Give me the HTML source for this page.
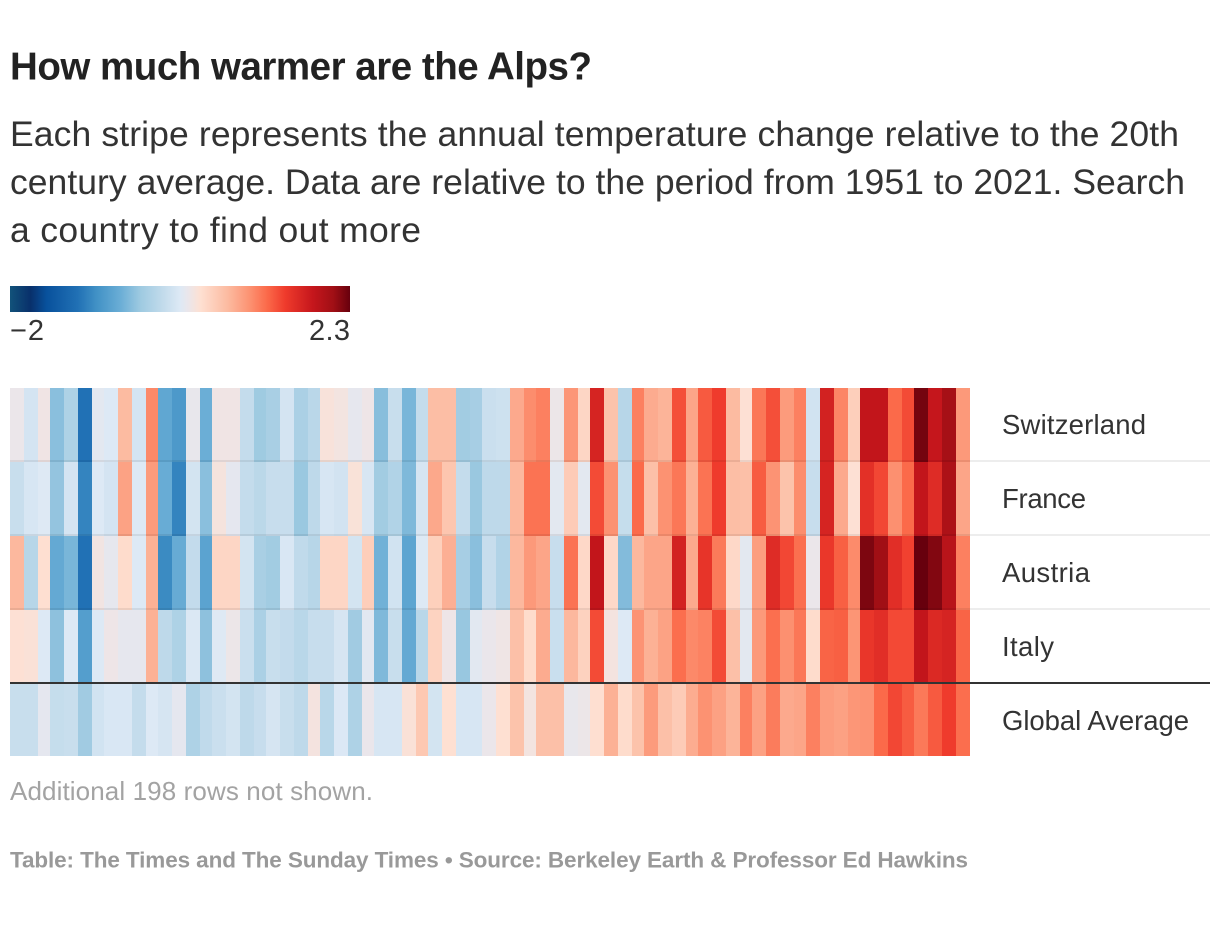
<!DOCTYPE html>
<html lang="en">
<head>
<meta charset="utf-8">
<title>How much warmer are the Alps?</title>
<style>
html,body{margin:0;padding:0;background:#fff;width:1220px;height:938px;overflow:hidden}
svg{display:block}
text{font-family:"Liberation Sans",Arial,sans-serif}
</style>
</head>
<body>
<svg id="chart" xmlns="http://www.w3.org/2000/svg" width="1220" height="938" viewBox="0 0 1220 938">
  <defs>
    <linearGradient id="legend-gradient" x1="0" x2="1" y1="0" y2="0"></linearGradient>
  </defs>
  <rect x="0" y="0" width="1220" height="938" fill="#ffffff"/>
  <text x="10" y="79.5" font-size="38.5" font-weight="700" fill="#222222" textLength="582" lengthAdjust="spacing">How much warmer are the Alps?</text>
  <g font-size="35.5" fill="#333333">
    <text x="10" y="146" textLength="1169" lengthAdjust="spacing">Each stripe represents the annual temperature change relative to the 20th</text>
    <text x="10" y="194" textLength="1175" lengthAdjust="spacing">century average. Data are relative to the period from 1951 to 2021. Search</text>
    <text x="10" y="242" textLength="411" lengthAdjust="spacing">a country to find out more</text>
  </g>
  <g>
    <rect x="10" y="286" width="340" height="26" fill="url(#legend-gradient)"/>
    <text id="legend-min" x="10" y="340" font-size="29" fill="#333333" textLength="34" lengthAdjust="spacing"></text>
    <text id="legend-max" x="350" y="340" font-size="29" fill="#333333" text-anchor="end" textLength="41" lengthAdjust="spacing"></text>
  </g>
  <g id="heatmap"></g>
  <g id="separators"></g>
  <g id="row-labels" font-size="27.5" fill="#333333"></g>
  <text x="10" y="800" font-size="26" fill="#a3a3a3" textLength="363" lengthAdjust="spacing">Additional 198 rows not shown.</text>
  <text x="10" y="867.5" font-size="22.5" font-weight="700" fill="#999999" textLength="958" lengthAdjust="spacing">Table: The Times and The Sunday Times • Source: Berkeley Earth &amp; Professor Ed Hawkins</text>
</svg>
<script>
const firstYear = 1951;
const lastYear = 2021;
const legendDomain = [-2, 2.3];
const countries = ["Switzerland", "France", "Austria", "Italy", "Global Average"];
const switzerland = [0.26,0.08,0.3,-0.45,-0.22,-1.14,0.2,0.15,0.75,0.08,1.08,-0.68,-0.82,0.24,-0.6,0.3,0.3,-0.05,-0.34,-0.26,0.08,-0.25,-0.13,0.36,0.32,0.22,0.28,-0.46,-0.02,-0.53,-0.05,0.72,0.72,-0.32,-0.28,0,0.02,0.87,1.06,1.13,0.27,1,0.5,1.7,0.68,-0.15,1.13,0.86,0.8,1.38,0.9,1.33,1.48,0.75,0.4,1.18,1.38,0.97,1.13,0.05,1.72,1.1,0.57,1.85,1.85,1.25,1.4,2.25,1.83,2.05,0.98];
const france = [-0.02,0.1,0.16,-0.4,0.08,-1,0.15,0.08,0.92,0.15,0.97,-0.62,-1,0.07,-0.45,0.34,0.21,-0.05,-0.12,-0.03,-0.03,-0.37,-0.1,0.1,0.06,0.37,0.11,-0.32,-0.2,-0.5,0.09,0.88,0.65,-0.05,-0.37,-0.1,-0.1,0.77,1.2,1.2,0.2,0.6,0.2,1.4,1.03,-0.04,1.25,0.7,1.03,1.18,0.82,1.2,1.48,0.72,0.7,1.32,1.02,0.68,1.06,-0.03,1.7,0.87,0.4,1.58,1.42,1.04,1.25,1.85,1.62,2,0.9];
const austria = [0.77,-0.15,0.42,-0.65,-0.53,-1.14,0.31,0.22,0.45,0.15,0.82,-0.95,-0.63,-0.06,-0.72,0.5,0.5,0.07,-0.26,-0.32,0.12,-0.08,-0.15,0.5,0.5,0.07,0.58,-0.57,0.05,-0.7,0.15,0.56,0.83,-0.28,-0.45,-0.03,-0.2,0.77,0.98,0.9,-0.03,1.2,0.48,1.85,0.48,-0.48,0.77,0.9,0.9,1.72,0.87,1.55,1.16,0.48,0.2,0.95,1.62,1.42,1.22,0.26,1.52,1.3,1.07,2.22,2.08,1.6,1.45,2.3,2.2,1.92,1.13];
const italy = [0.4,0.38,0.15,-0.43,0.15,-0.77,0.15,0.28,0.22,0.22,0.82,-0.1,-0.22,0.13,-0.43,0.16,0.27,0,-0.25,-0.02,-0.06,-0.14,-0.03,-0.03,0.09,-0.33,0.19,-0.5,-0.02,-0.65,-0.14,0.53,0.28,-0.38,0.19,0.25,0.29,0.7,0.45,0.86,-0.01,0.77,0.54,1.4,0.33,0.15,1.02,0.82,0.92,1.23,1.08,1.12,1.4,0.7,0.2,0.98,1.22,1.04,1.18,0.45,1.28,1.3,1.01,1.53,1.6,1.41,1.41,1.85,1.65,1.7,1.28];
const globalAverage = [-0.02,-0.02,0.21,-0.04,-0.02,-0.33,0.05,0.12,0.12,-0.05,0.15,0.09,0.21,-0.22,-0.08,0,0.07,-0.1,-0.03,0.09,-0.02,-0.1,0.33,-0.14,0.14,-0.22,0.25,0.1,0.1,0.38,0.63,0.07,0.41,0.1,0.1,0.26,0.41,0.68,0.32,0.7,0.7,0.24,0.27,0.42,0.82,0.45,0.68,0.97,0.7,0.6,0.85,1.03,0.93,0.8,1.13,0.93,1.15,0.87,0.9,1.13,0.96,0.93,1,1.02,1.25,1.42,1.32,1.17,1.33,1.48,1.23];
const seriesByRow = [switzerland, france, austria, italy, globalAverage];

const SVG_NS = "http://www.w3.org/2000/svg";
const plot = { left: 10, right: 970, top: 388, bottom: 756, rowHeight: 74, lineRight: 1210, labelX: 1002, stripeStep: 13.5 };
const scaleStops = [
  [-2, "#12527a"], [-1.74, "#08306b"], [-1.54, "#08519c"], [-1.14, "#2171b5"], [-0.9, "#4292c6"],
  [-0.6, "#6baed6"], [-0.35, "#9ecae1"], [-0.05, "#c4dcec"], [0.15, "#dde9f5"], [0.26, "#ebe6ea"],
  [0.41, "#fee0d2"], [0.75, "#fcbba1"], [1.03, "#fc9272"], [1.25, "#fb6a4a"], [1.48, "#ef3b2c"],
  [1.83, "#c5161c"], [2.09, "#a00f15"], [2.3, "#67000d"]
];
function hexToRgb(hex) {
  return [1, 3, 5].map(function (i) { return parseInt(hex.substr(i, 2), 16); });
}
function colorScale(v) {
  const clamped = Math.max(scaleStops[0][0], Math.min(scaleStops[scaleStops.length - 1][0], v));
  for (let i = 1; i < scaleStops.length; i++) {
    if (clamped <= scaleStops[i][0]) {
      const a = scaleStops[i - 1], b = scaleStops[i];
      const t = (clamped - a[0]) / (b[0] - a[0]);
      const ca = hexToRgb(a[1]), cb = hexToRgb(b[1]);
      const c = ca.map(function (x, k) { return Math.round(x + (cb[k] - x) * t); });
      return "rgb(" + c.join(",") + ")";
    }
  }
  return scaleStops[scaleStops.length - 1][1];
}
const yearCount = lastYear - firstYear + 1;
function xScale(index) {
  if (index >= yearCount) return plot.right;
  return plot.left + 2 * Math.round(index * plot.stripeStep / 2);
}
function yScale(rowIndex) {
  return plot.top + rowIndex * plot.rowHeight;
}

const heatmapGroup = document.getElementById("heatmap");
seriesByRow.forEach(function (values, r) {
  const rowGroup = document.createElementNS(SVG_NS, "g");
  
  
  const rowTop = yScale(r);
  const rowBottom = Math.min(yScale(r + 1), plot.bottom);
  values.forEach(function (value, i) {
    const cell = document.createElementNS(SVG_NS, "rect");
    
    
    cell.setAttribute("x", xScale(i));
    cell.setAttribute("y", rowTop);
    cell.setAttribute("width", xScale(i + 1) - xScale(i));
    cell.setAttribute("height", rowBottom - rowTop);
    cell.setAttribute("fill", colorScale(value));
    cell.setAttribute("shape-rendering", "crispEdges");
    const tip = document.createElementNS(SVG_NS, "title");
    tip.textContent = countries[r] + " " + (firstYear + i) + ": " + value;
    cell.appendChild(tip);
    rowGroup.appendChild(cell);
  });
  heatmapGroup.appendChild(rowGroup);
});

const separatorGroup = document.getElementById("separators");
const labelGroup = document.getElementById("row-labels");
const labelWidths = [144, 84, 88, 52, 187];
countries.forEach(function (name, r) {
  const rowBottom = yScale(r + 1);
  if (r < countries.length - 1) {
    const line = document.createElementNS(SVG_NS, "rect");
    
    
    line.setAttribute("x", plot.left);
    line.setAttribute("y", rowBottom - 2);
    line.setAttribute("width", plot.lineRight - plot.left);
    line.setAttribute("height", 2);
    line.setAttribute("fill", r === countries.length - 2 ? "#333333" : "rgba(0,0,0,0.07)");
    separatorGroup.appendChild(line);
  }
  const label = document.createElementNS(SVG_NS, "text");
  
  
  label.setAttribute("x", plot.labelX);
  label.setAttribute("y", yScale(r) + 46);
  label.setAttribute("textLength", labelWidths[r]);
  label.setAttribute("lengthAdjust", "spacing");
  label.textContent = name;
  labelGroup.appendChild(label);
});

const gradient = document.getElementById("legend-gradient");
const span = legendDomain[1] - legendDomain[0];
scaleStops.forEach(function (s) {
  const stop = document.createElementNS(SVG_NS, "stop");
  stop.setAttribute("offset", ((s[0] - legendDomain[0]) / span * 100).toFixed(2) + "%");
  stop.setAttribute("stop-color", s[1]);
  gradient.appendChild(stop);
});
document.getElementById("legend-min").textContent = "\u2212" + Math.abs(legendDomain[0]);
document.getElementById("legend-max").textContent = String(legendDomain[1]);
</script>
</body>
</html>
